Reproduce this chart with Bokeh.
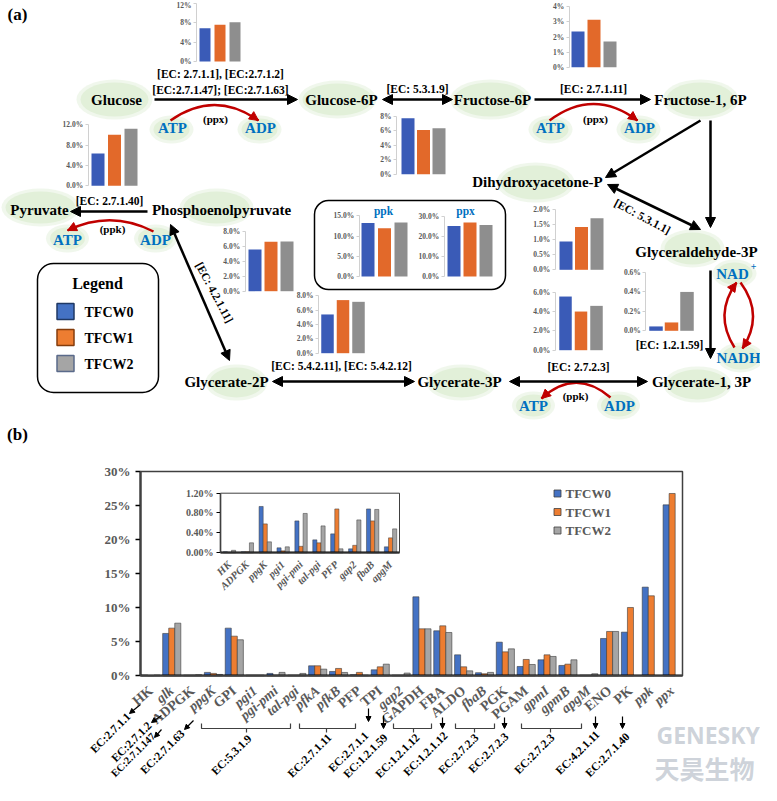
import math
import numpy as np
from bokeh.plotting import figure
from bokeh.models import (Range1d, LinearAxis, FixedTicker, CustomJSTickFormatter,
                          BoxAnnotation, Arrow, NormalHead)
from bokeh.core.properties import value
from bokeh.embed import file_html
from bokeh.resources import INLINE

SERIES = ["TFCW0", "TFCW1", "TFCW2"]

# ---------- (a) pathway mini charts: relative abundance (%) TFCW0, TFCW1, TFCW2
hk_ec = [6.9, 7.6, 8.1]          # EC 2.7.1.1/2/47/63
gpi_ec = [7.72, 6.11, 6.34]      # EC 5.3.1.9
pfk_ec = [2.36, 3.14, 1.70]      # EC 2.7.1.11
pk_ec = [6.36, 10.03, 11.2]      # EC 2.7.1.40
eno_ec = [5.59, 6.61, 6.66]      # EC 4.2.1.11
pgam_ec = [5.40, 7.40, 7.16]     # EC 5.4.2.11/12
ppk_vals = [13.19, 11.95, 13.35]
ppx_vals = [25.3, 27.0, 25.7]
tpi_ec = [0.94, 1.43, 1.72]      # EC 5.3.1.1
pgk_ec = [5.58, 4.02, 4.61]      # EC 2.7.2.3
gap_ec = [0.045, 0.086, 0.40]    # EC 1.2.1.59

# ---------- (b) gene abundance (%)
genes = ["HK", "glk", "ADPGK", "ppgK", "GPI", "pgi1", "pgi-pmi", "tal-pgi", "pfkA",
         "pfkB", "PFP", "TPI", "gap2", "GAPDH", "FBA", "ALDO", "fbaB", "PGK", "PGAM",
         "gpmI", "gpmB", "apgM", "ENO", "PK", "ppk", "ppx"]
enzyme_names = ["HK", "ADPGK", "GPI", "PFP", "TPI", "GAPDH", "FBA", "ALDO", "PGK", "PGAM",
                "ENO", "PK"]   # shown upright; the other labels are gene names (italic)
tfcw0 = [0.10, 6.22, 0.10, 0.50, 7.00, 0.10, 0.35, 0.10, 1.47, 0.64, 0.15, 0.88, 0.10,
         11.60, 6.61, 3.08, 0.45, 4.94, 1.37, 2.35, 1.52, 0.10, 5.48, 6.41, 13.02, 25.10]
tfcw1 = [0.02, 7.00, 0.10, 0.35, 5.82, 0.10, 0.10, 0.10, 1.47, 1.08, 0.50, 1.32, 0.10,
         6.90, 7.34, 1.32, 0.30, 3.52, 2.40, 3.08, 1.71, 0.10, 6.51, 10.03, 11.75, 26.77]
tfcw2 = [0.10, 7.73, 0.15, 0.20, 5.29, 0.10, 0.50, 0.35, 0.98, 0.49, 0.10, 1.71, 0.40,
         6.90, 6.36, 0.73, 0.50, 3.96, 1.66, 2.84, 2.35, 0.30, 6.51, np.nan, np.nan, np.nan]
y_ticks_b = [0, 5, 10, 15, 20, 25, 30]

inset_genes = ["HK", "ADPGK", "ppgK", "pgi1", "pgi-pmi", "tal-pgi", "PFP", "gap2", "fbaB", "apgM"]
inset0 = [0.02, 0.02, 0.93, 0.10, 0.64, 0.26, 0.38, 0.08, 0.88, 0.12]
inset1 = [0.01, 0.02, 0.58, 0.04, 0.13, 0.20, 0.88, 0.15, 0.64, 0.30]
inset2 = [0.05, 0.20, 0.22, 0.12, 0.79, 0.54, 0.08, 0.66, 0.87, 0.48]
y_ticks_inset = [0, 0.4, 0.8, 1.2]

B_COLORS = ["#4472C4", "#ED7D31", "#A5A5A5"]
A_COLORS = ["#3A5BB7", "#E2692A", "#8E8E8E"]
GREEN = "#E2F0D9"
BLUE_TXT = "#0070C0"
RED = "#C00000"
GRAY_TXT = "#595959"
SERIF = "Liberation Serif"

W, H = 760, 784
X0, Y0 = 8, 8
p = figure(width=W, height=H, x_range=Range1d(X0, X0 + W), y_range=Range1d(Y0 + H, Y0),
           output_backend="svg", toolbar_location=None, x_axis_location=None,
           y_axis_location=None, min_border=0, outline_line_color=None)
p.grid.visible = False


def add_ranges(key, px0, kx, py0, ky):
    p.extra_x_ranges[key] = Range1d((X0 - px0) / kx, (X0 + W - px0) / kx)
    p.extra_y_ranges[key] = Range1d((py0 - (Y0 + H)) / ky, (py0 - Y0) / ky)


def pct_fmt(dec):
    return CustomJSTickFormatter(args=dict(d=dec), code="return tick.toFixed(d) + '%';")


def box(l, r, t, b, color="black", lw=1.5, radius=0):
    p.add_layout(BoxAnnotation(left=l, right=r, top=t, bottom=b, fill_color=None,
                               line_color=color, line_alpha=1.0, line_width=lw,
                               border_radius=radius))


def mini(key, vals, c0, step, bw, y0, ytop, vmax, tstep, dec, axis_x):
    k = (y0 - ytop) / vmax
    add_ranges(key, c0, step, y0, k)
    p.vbar(x=[0, 1, 2], top=vals, bottom=0, width=bw / step, fill_color=A_COLORS,
           line_color=None, x_range_name=key, y_range_name=key)
    n = int(round(vmax / tstep))
    ticks = [round(i * tstep, 4) for i in range(n + 1)]
    ax = LinearAxis(y_range_name=key, fixed_location=axis_x, ticker=FixedTicker(ticks=ticks),
                    bounds=(0, vmax), formatter=pct_fmt(dec))
    ax.axis_line_color = "#d0d0d0"
    ax.major_tick_line_color = "#d0d0d0"
    ax.major_tick_out = 3
    ax.major_tick_in = 0
    ax.minor_tick_line_color = None
    ax.major_label_text_font = SERIF
    ax.major_label_text_font_style = "bold"
    ax.major_label_text_font_size = "7.5px"
    ax.major_label_text_color = GRAY_TXT
    ax.major_label_standoff = 2
    p.add_layout(ax, "left")


def txt(items, size, color="black", style="bold", align="center", angle=0.0,
        font=SERIF, alpha=1.0):
    p.text(x=[t[1] for t in items], y=[t[2] for t in items], text=[t[0] for t in items],
           text_font=value(font), text_font_size=size, text_font_style=style,
           text_color=color, text_align=align, text_baseline="middle", angle=angle,
           text_alpha=alpha)


def arrow(x0, y0, x1, y1, both=False, color="black", lw=2.5, size=10):
    def head():
        return NormalHead(size=size, fill_color=color, line_color=color, line_width=1)
    p.add_layout(Arrow(x_start=x0, y_start=y0, x_end=x1, y_end=y1, line_color=color,
                       line_width=lw, end=head(), start=head() if both else None))


def curved(x0, y0, cx, cy, x1, y1, color=RED):
    p.quadratic(x0=[x0], y0=[y0], x1=[x1], y1=[y1], cx=[cx], cy=[cy],
                line_color=color, line_width=2.5)
    dx, dy = x1 - cx, y1 - cy
    n = math.hypot(dx, dy)
    p.add_layout(Arrow(x_start=x1 - dx / n * 4, y_start=y1 - dy / n * 4, x_end=x1, y_end=y1,
                       line_alpha=0, end=NormalHead(size=9, fill_color=color, line_color=color)))


def cat_axis(key, names, subset, loc, n, orient, size, style, standoff, show_line):
    idx = [i for i, g in enumerate(names) if g in subset]
    ax = LinearAxis(x_range_name=key, fixed_location=loc, ticker=FixedTicker(ticks=idx),
                    bounds=(-0.5, n - 0.5),
                    formatter=CustomJSTickFormatter(args=dict(names=names),
                                                    code="return names[Math.round(tick)];"))
    ax.axis_line_color = "black" if show_line else None
    ax.axis_line_width = 2
    ax.major_tick_line_color = None
    ax.minor_tick_line_color = None
    ax.major_label_orientation = orient
    ax.major_label_text_font = SERIF
    ax.major_label_text_font_style = style
    ax.major_label_text_font_size = size
    ax.major_label_text_color = GRAY_TXT
    ax.major_label_standoff = standoff
    p.add_layout(ax, "below")


# ================= (a) =================
ell = [(122, 107, 68, 34), (345, 107, 70, 32), (498, 107, 73, 34), (708, 107, 68, 34),
       (543, 190, 70, 34), (700, 256, 56, 32), (742, 281, 36, 22), (748, 365, 38, 24),
       (705, 392, 60, 30), (469, 390, 62, 30), (244, 390, 54, 30), (224, 215, 66, 32),
       (48, 215, 70, 32), (179, 137, 36, 22), (267, 137, 36, 22), (558, 137, 36, 22),
       (646, 137, 36, 22), (75, 246, 35, 22), (163, 246, 35, 22), (541, 413, 35, 22),
       (626, 413, 35, 22)]
p.ellipse(x=[e[0] for e in ell], y=[e[1] for e in ell], width=[e[2] + 8 for e in ell],
          height=[e[3] + 6 for e in ell], fill_color=GREEN, fill_alpha=0.5, line_color=None)
p.ellipse(x=[e[0] for e in ell], y=[e[1] for e in ell], width=[e[2] for e in ell],
          height=[e[3] for e in ell], fill_color=GREEN, line_color=None)

mini("hk", hk_ec, 212.5, 15, 11, 69, 11, 12, 4, 0, 204)
mini("pfk", pfk_ec, 585.5, 16, 13, 74.7, 14.3, 4, 1, 0, 576.7)
mini("gpi", gpi_ec, 415.5, 15.5, 13, 181.7, 123.7, 8, 2, 0, 404)
mini("pk", pk_ec, 105.5, 16.5, 13, 193.3, 132.3, 12, 4, 1, 95.7)
mini("eno", eno_ec, 262.5, 16, 13, 298.7, 239, 8, 2, 1, 252.7)
mini("pgam", pgam_ec, 335, 15.5, 12.5, 360.7, 303.3, 8, 2, 1, 326)
mini("ppk", ppk_vals, 375.5, 16.5, 13, 284, 223.3, 15, 5, 1, 366.7)
mini("ppx", ppx_vals, 461.5, 16, 13, 284, 224, 30, 10, 1, 451.7)
mini("tpi", tpi_ec, 573.5, 15.5, 13, 277.3, 217.3, 2, 0.5, 1, 562.7)
mini("pgk", pgk_ec, 573, 15.5, 12.5, 357.7, 300, 6, 2, 1, 562.7)
mini("gap", gap_ec, 663.5, 15.5, 13.5, 338.3, 280, 0.6, 0.2, 1, 653.3)

# rounded boxes
box(45, 166, 271, 400, lw=1.5, radius=16)
box(322, 513, 208, 297, lw=1.5, radius=14)

# legend (a)
p.rect(x=[73, 73, 73], y=[319, 345, 371], width=17, height=16, fill_color=B_COLORS,
       line_color=["#1F3864", "#843C0C", "#5A6A8A"], line_width=1.5)
txt([("Legend", 105, 291)], "16px")
txt([(SERIES[0], 92, 320), (SERIES[1], 92, 346), (SERIES[2], 92, 372)], "14px", align="left")

# arrows
arrow(162, 107, 305, 107)
arrow(390, 107, 460, 107, both=True)
arrow(542, 107, 658, 107)
arrow(708, 128, 613, 185)
arrow(718, 128, 718, 235)
arrow(615, 192, 708, 237, both=True)
arrow(718, 278, 718, 366)
arrow(517, 389, 655, 389, both=True)
arrow(280, 389, 422, 389, both=True)
arrow(178, 232, 237, 368, both=True)
arrow(155, 219, 78, 219)

curved(178, 128, 222, 97, 266, 128)
curved(557, 128, 601, 95, 645, 128)
curved(161, 239, 118, 217, 75, 238)
curved(618, 405, 583, 375, 549, 406)
curved(742, 355, 721, 322, 744, 290)
curved(748, 290, 772, 322, 750, 356)

txt([("Glucose", 124, 107), ("Glucose-6P", 349, 107), ("Fructose-6P", 500, 107),
     ("Fructose-1, 6P", 708, 107), ("Dihydroxyacetone-P", 545, 189),
     ("Glyceraldehyde-3P", 704, 259), ("Glycerate-1, 3P", 709, 389),
     ("Glycerate-3P", 467, 389), ("Glycerate-2P", 234, 389),
     ("Phosphoenolpyruvate", 229, 217), ("Pyruvate", 47, 217)], "15px")
txt([("ATP", 180, 135), ("ADP", 268, 135), ("ATP", 558, 135), ("ADP", 647, 135),
     ("ATP", 75, 247), ("ADP", 163, 247), ("ATP", 541, 413), ("ADP", 627, 413),
     ("NAD", 740, 281), ("NADH", 746, 365)], "15px", color=BLUE_TXT)
txt([("+", 761, 274)], "10px", color=BLUE_TXT)
txt([("[EC: 2.7.1.1], [EC:2.7.1.2]", 228, 81), ("[EC:2.7.1.47]; [EC:2.7.1.63]", 228, 97),
     ("[EC: 5.3.1.9]", 425, 96), ("[EC: 2.7.1.11]", 601, 96), ("[EC: 2.7.1.40]", 117, 208),
     ("[EC: 5.4.2.11], [EC: 5.4.2.12]", 349, 373), ("[EC: 2.7.2.3]", 586, 374),
     ("[EC: 1.2.1.59]", 677, 352)], "11.5px")
txt([("[EC: 5.3.1.1]", 650, 224)], "11.5px", angle=-0.49)
txt([("[EC: 4.2.1.11]", 222, 300)], "11.5px", angle=-1.08)
txt([("(ppx)", 223, 126), ("(ppx)", 603, 126), ("(ppk)", 120, 236), ("(ppk)", 583, 403)],
    "11px")
txt([("ppk", 391, 218), ("ppx", 473, 218)], "11.5px", color=BLUE_TXT)
txt([("(a)", 25, 22), ("(b)", 25, 442)], "17px")

# ================= (b) =================
add_ranges("b", 158.4, 20.85, 683.3, 6.81)
xs = np.arange(len(genes))
for j, vals in enumerate([tfcw0, tfcw1, tfcw2]):
    p.vbar(x=xs + (j - 1) * 0.29, top=np.array(vals, dtype=float), bottom=0, width=0.29,
           fill_color=B_COLORS[j], line_color="#3a3a3a", line_width=0.6,
           x_range_name="b", y_range_name="b")

box(148, 690, 479, 683.3, color="#404040", lw=1.5)
yb = LinearAxis(y_range_name="b", fixed_location=148, ticker=FixedTicker(ticks=y_ticks_b),
                bounds=(0, 30), formatter=pct_fmt(0))
yb.axis_line_color = "black"
yb.axis_line_width = 2
yb.major_tick_out = 5
yb.major_tick_in = 0
yb.major_tick_line_width = 1.5
yb.minor_tick_line_color = None
yb.major_label_text_font = SERIF
yb.major_label_text_font_style = "bold"
yb.major_label_text_font_size = "13px"
yb.major_label_text_color = GRAY_TXT
yb.major_label_standoff = 5
p.add_layout(yb, "left")

gene_names = [g for g in genes if g not in enzyme_names]
cat_axis("b", genes, gene_names, 683.3, len(genes), 0.70, "14px", "bold italic", 7, True)
cat_axis("b", genes, enzyme_names, 683.3, len(genes), 0.70, "14px", "bold", 7, False)

# inset
add_ranges("ins", 236.95, 17.9, 560.3, 49.83)
xi = np.arange(len(inset_genes))
for j, vals in enumerate([inset0, inset1, inset2]):
    p.vbar(x=xi + (j - 1) * 0.23, top=vals, bottom=0, width=0.23, fill_color=B_COLORS[j],
           line_color="#3a3a3a", line_width=0.5, x_range_name="ins", y_range_name="ins")
box(228, 407, 500.7, 560.3, color="#404040", lw=1)
yi = LinearAxis(y_range_name="ins", fixed_location=228, ticker=FixedTicker(ticks=y_ticks_inset),
                bounds=(0, 1.2), formatter=pct_fmt(2))
yi.axis_line_color = "black"
yi.axis_line_width = 1.5
yi.major_tick_out = 4
yi.major_tick_in = 0
yi.minor_tick_line_color = None
yi.major_label_text_font = SERIF
yi.major_label_text_font_style = "bold"
yi.major_label_text_font_size = "10px"
yi.major_label_text_color = GRAY_TXT
yi.major_label_standoff = 3
p.add_layout(yi, "left")
cat_axis("ins", inset_genes, inset_genes, 560.3, len(inset_genes), 0.78, "10.5px",
         "bold italic", 4, True)

# legend (b)
p.scatter(x=[565, 565, 565], y=[501, 519.5, 538], marker="square", size=7,
          fill_color=B_COLORS, line_color="#404040", line_width=0.8)
txt([(SERIES[0], 573, 501), (SERIES[1], 573, 519.5), (SERIES[2], 573, 538)], "13px",
    color=GRAY_TXT, align="left")

# EC annotations under (b)
brackets = [(209, 298, 254), (307, 363, 334), (401, 439, 421), (463, 502, 482), (529, 589, 558)]
bx, by = [], []
for l, r, c in brackets:
    bx += [[l, l, r, r], [c, c]]
    by += [[731, 736, 736, 731], [736, 740]]
p.multi_line(xs=bx, ys=by, line_color="#404040", line_width=1.2)
for x0, y0, x1, y1 in [(148, 712, 137, 721), (169, 723, 159, 730), (169, 737, 162, 745),
                       (201, 728, 192, 737), (376, 716, 376, 729), (391, 723, 391, 736),
                       (450, 725, 450, 736), (512, 725, 512, 736), (603, 724, 603, 736),
                       (630, 724, 630, 736)]:
    arrow(x0, y0, x1, y1, lw=1.2, size=5)
txt([("EC:2.7.1.1", 136, 722), ("EC:2.7.1.2", 157, 731),
     ("EC:2.7.1.63", 190, 739), ("EC:5.3.1.9", 257, 744), ("EC:2.7.1.11", 337, 743),
     ("EC:2.7.1.1", 374, 741), ("EC:1.2.1.59", 393, 743), ("EC:1.2.1.12", 425, 743),
     ("EC:1.2.1.12", 453, 741), ("EC:2.7.2.3", 484, 743), ("EC:2.7.2.3", 514, 742),
     ("EC:2.7.2.3", 560, 743), ("EC:4.2.1.11", 605, 740), ("EC:2.7.1.40", 635, 742)],
    "11.5px", align="right", angle=0.785)
txt([("EC:2.7.1.147", 161, 742)], "10.5px", align="right", angle=0.785)

# watermark
txt([("GENESKY", 664, 742)], "23px", color="#b8bfca", align="left", font="Noto Sans", alpha=0.7)
txt([("天昊生物", 662, 775)], "25px", color="#b8bfca", align="left", font="Noto Sans CJK SC",
    alpha=0.7)

open("out.html", "w").write(file_html(p, INLINE))
